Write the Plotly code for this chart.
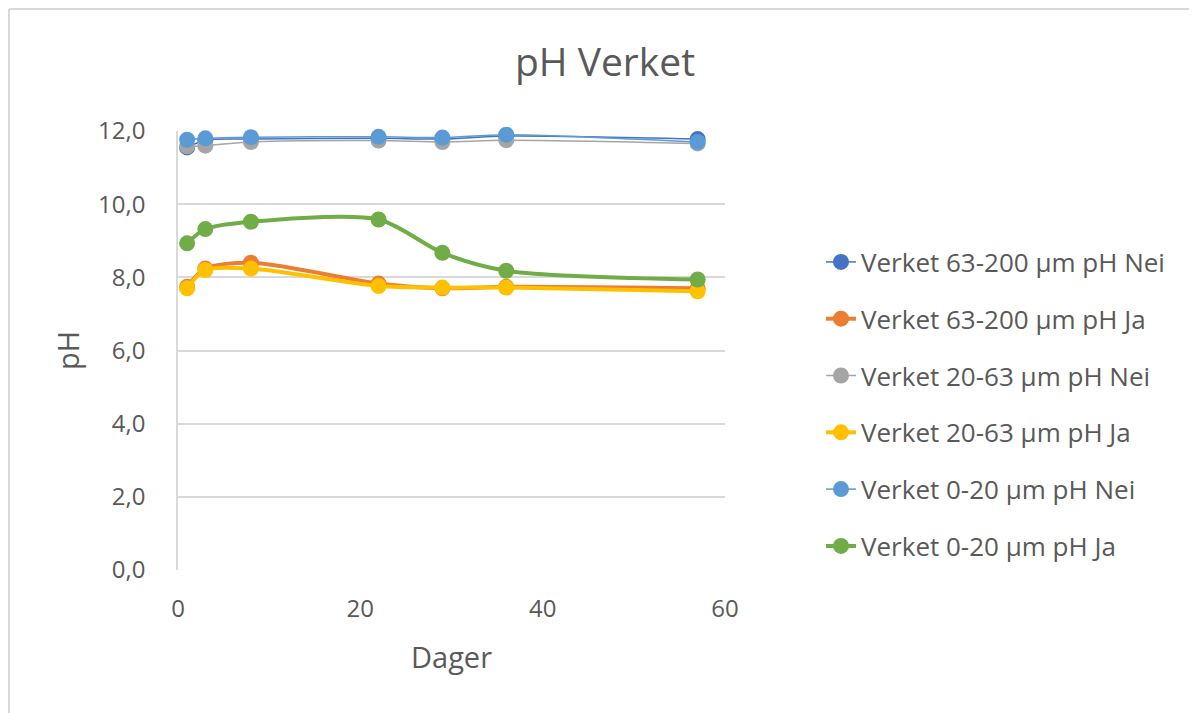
import plotly.graph_objects as go

days = [1, 3, 8, 22, 29, 36, 57]
series_names = [
    "Verket 63-200 µm pH Nei",
    "Verket 63-200 µm pH Ja",
    "Verket 20-63 µm pH Nei",
    "Verket 20-63 µm pH Ja",
    "Verket 0-20 µm pH Nei",
    "Verket 0-20 µm pH Ja",
]
ph_63_200_nei = [11.55, 11.75, 11.78, 11.80, 11.78, 11.86, 11.78]
ph_63_200_ja = [7.74, 8.24, 8.40, 7.83, 7.70, 7.74, 7.70]
ph_20_63_nei = [11.58, 11.60, 11.70, 11.74, 11.70, 11.75, 11.66]
ph_20_63_ja = [7.70, 8.20, 8.24, 7.76, 7.72, 7.72, 7.62]
ph_0_20_nei = [11.76, 11.80, 11.83, 11.84, 11.82, 11.90, 11.70]
ph_0_20_ja = [8.93, 9.32, 9.52, 9.58, 8.67, 8.18, 7.94]
values = [ph_63_200_nei, ph_63_200_ja, ph_20_63_nei, ph_20_63_ja, ph_0_20_nei, ph_0_20_ja]
colors = ["#4472C4", "#ED7D31", "#A5A5A5", "#FFC000", "#5B9BD5", "#70AD47"]
widths = [1.5, 4, 1.5, 4, 1.5, 4]

FONT = "Open Sans"
TXT = "#595959"

fig = go.Figure()
for i, (n, v, c, w) in enumerate(zip(series_names, values, colors, widths)):
    fig.add_trace(go.Scatter(
        x=days, y=v, name=n, mode="lines+markers",
        line=dict(color=c, width=w, shape="spline", smoothing=0.8),
        marker=dict(color=c, size=16),
        legendgroup=f"g{i}", cliponaxis=False,
    ))

OFF = 8  # page body margin offset
W, H = 1197 - OFF, 713 - OFF
L, R, T, B = 178 - OFF, 725 - OFF, 131 - OFF, 570 - OFF
pw, ph = R - L, B - T

def px_x(x):
    return (x - OFF - L) / pw

def px_y(y):
    return (B - (y - OFF)) / ph

fig.update_layout(
    width=W, height=H, autosize=False,
    margin=dict(l=L, r=W - R, t=T, b=H - B),
    paper_bgcolor="white", plot_bgcolor="white",
    separators=", ",
    font=dict(family=FONT, color=TXT),
    title=dict(text="pH Verket", x=(605 - OFF) / W, xanchor="center",
               y=1 - (62 - OFF) / H, yanchor="middle",
               font=dict(family=FONT, size=39, color=TXT)),
    xaxis=dict(range=[0, 60], tickvals=[0, 20, 40, 60], showgrid=False,
               zeroline=False, showline=False, ticks="", ticklabelstandoff=22,
               tickfont=dict(size=24, color=TXT),
               title=dict(text="Dager", font=dict(size=29, color=TXT), standoff=24)),
    yaxis=dict(range=[0, 12], tickvals=[0, 2, 4, 6, 8, 10, 12], tickformat=".1f",
               showgrid=True, gridcolor="#D9D9D9", gridwidth=1.5,
               zeroline=False, showline=True, linecolor="#D9D9D9", linewidth=1.5,
               ticks="", ticklabelstandoff=26, tickfont=dict(size=24, color=TXT),
               title=dict(text="pH", font=dict(size=29, color=TXT), standoff=10)),
    legend=dict(x=px_x(821), xanchor="left", y=px_y(404), yanchor="middle",
                font=dict(size=26, color=TXT), tracegroupgap=20,
                bgcolor="rgba(0,0,0,0)"),
    showlegend=True,
)
# outer chart border (top and left edges visible in reference)
fig.add_shape(type="line", xref="paper", yref="paper",
              x0=px_x(OFF + 1), x1=px_x(1220), y0=px_y(OFF + 1), y1=px_y(OFF + 1),
              line=dict(color="#D9D9D9", width=2))
fig.add_shape(type="line", xref="paper", yref="paper",
              x0=px_x(OFF + 1), x1=px_x(OFF + 1), y0=px_y(730), y1=px_y(OFF + 1),
              line=dict(color="#D9D9D9", width=2))

fig.write_html("out.html")
